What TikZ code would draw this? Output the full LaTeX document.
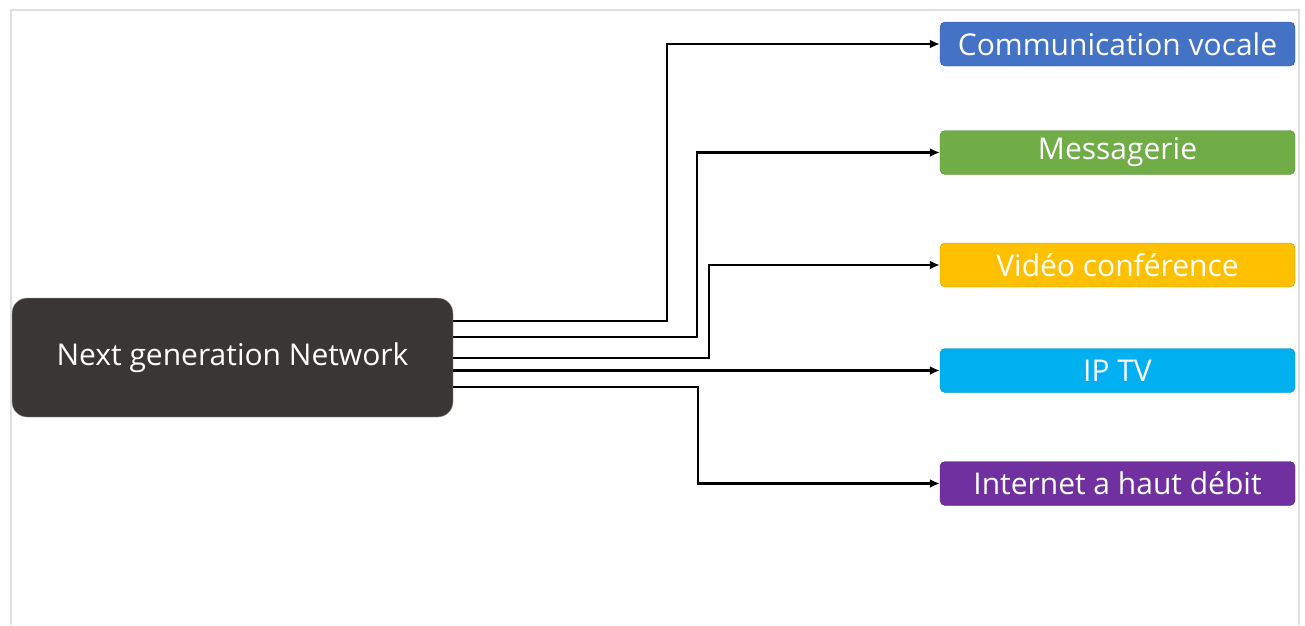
\documentclass[tikz,border=0pt]{standalone}
\usepackage{fontspec}
\setmainfont{Open Sans}
\usepackage{tikz}
\usetikzlibrary{calc, arrows.meta}

\definecolor{ngndark}{HTML}{3A3634}
\definecolor{svcblue}{HTML}{4472C4}
\definecolor{svcgreen}{HTML}{70AD47}
\definecolor{svcgold}{HTML}{FFC000}
\definecolor{svccyan}{HTML}{00B0F0}
\definecolor{svcpurple}{HTML}{7030A0}

\tikzset{
    ngn/.style={draw=gray!60, fill=ngndark, rounded corners=15pt, text=white,
        minimum width=441pt, minimum height=119pt, inner sep=0pt,
        font=\fontsize{30}{34}\selectfont},
    service/.style={draw=#1!80!black, fill=#1, rounded corners=5pt, text=white,
        minimum width=355pt, minimum height=44pt, inner sep=0pt,
        font=\fontsize{30}{34}\selectfont},
    link/.style={line width=2.3pt, -{Latex[length=10pt, width=9pt]}}
}

\begin{document}
\begin{tikzpicture}[x=1pt, y=-1pt]
        \useasboundingbox (0,0) rectangle (1305,625);
        \draw[gray!25, line width=1.5pt] (11,625) -- (11,10) -- (1299,10) -- (1299,625);

        \node[ngn] (ngn) at (232.5,357.5) {Next generation Network};

        \foreach \y/\name/\col/\txt in {44/cv/svcblue/Communication vocale,
                                       152.5/msg/svcgreen/Messagerie,
                                       265/video/svcgold/Vidéo conférence,
                                       370.5/iptv/svccyan/IP TV,
                                       483.5/web/svcpurple/Internet a haut débit} {
            \node[service=\col] (\name) at (1117.5,\y) {\txt};
        }

        \draw[link] ([yshift=36.5pt]ngn.east) -- ++(214,0) |- (cv.west);
        \draw[link] ([yshift=20.5pt]ngn.east) -- ++(244,0) |- (msg.west);
        \draw[link] ([yshift=-0.5pt]ngn.east) -- ++(256,0) |- (video.west);
        \draw[link] (ngn.east |- iptv.west) -- (iptv.west);
        \draw[link] ([yshift=-29.5pt]ngn.east) -- ++(245,0) |- (web.west);
    \end{tikzpicture}
\end{document}
